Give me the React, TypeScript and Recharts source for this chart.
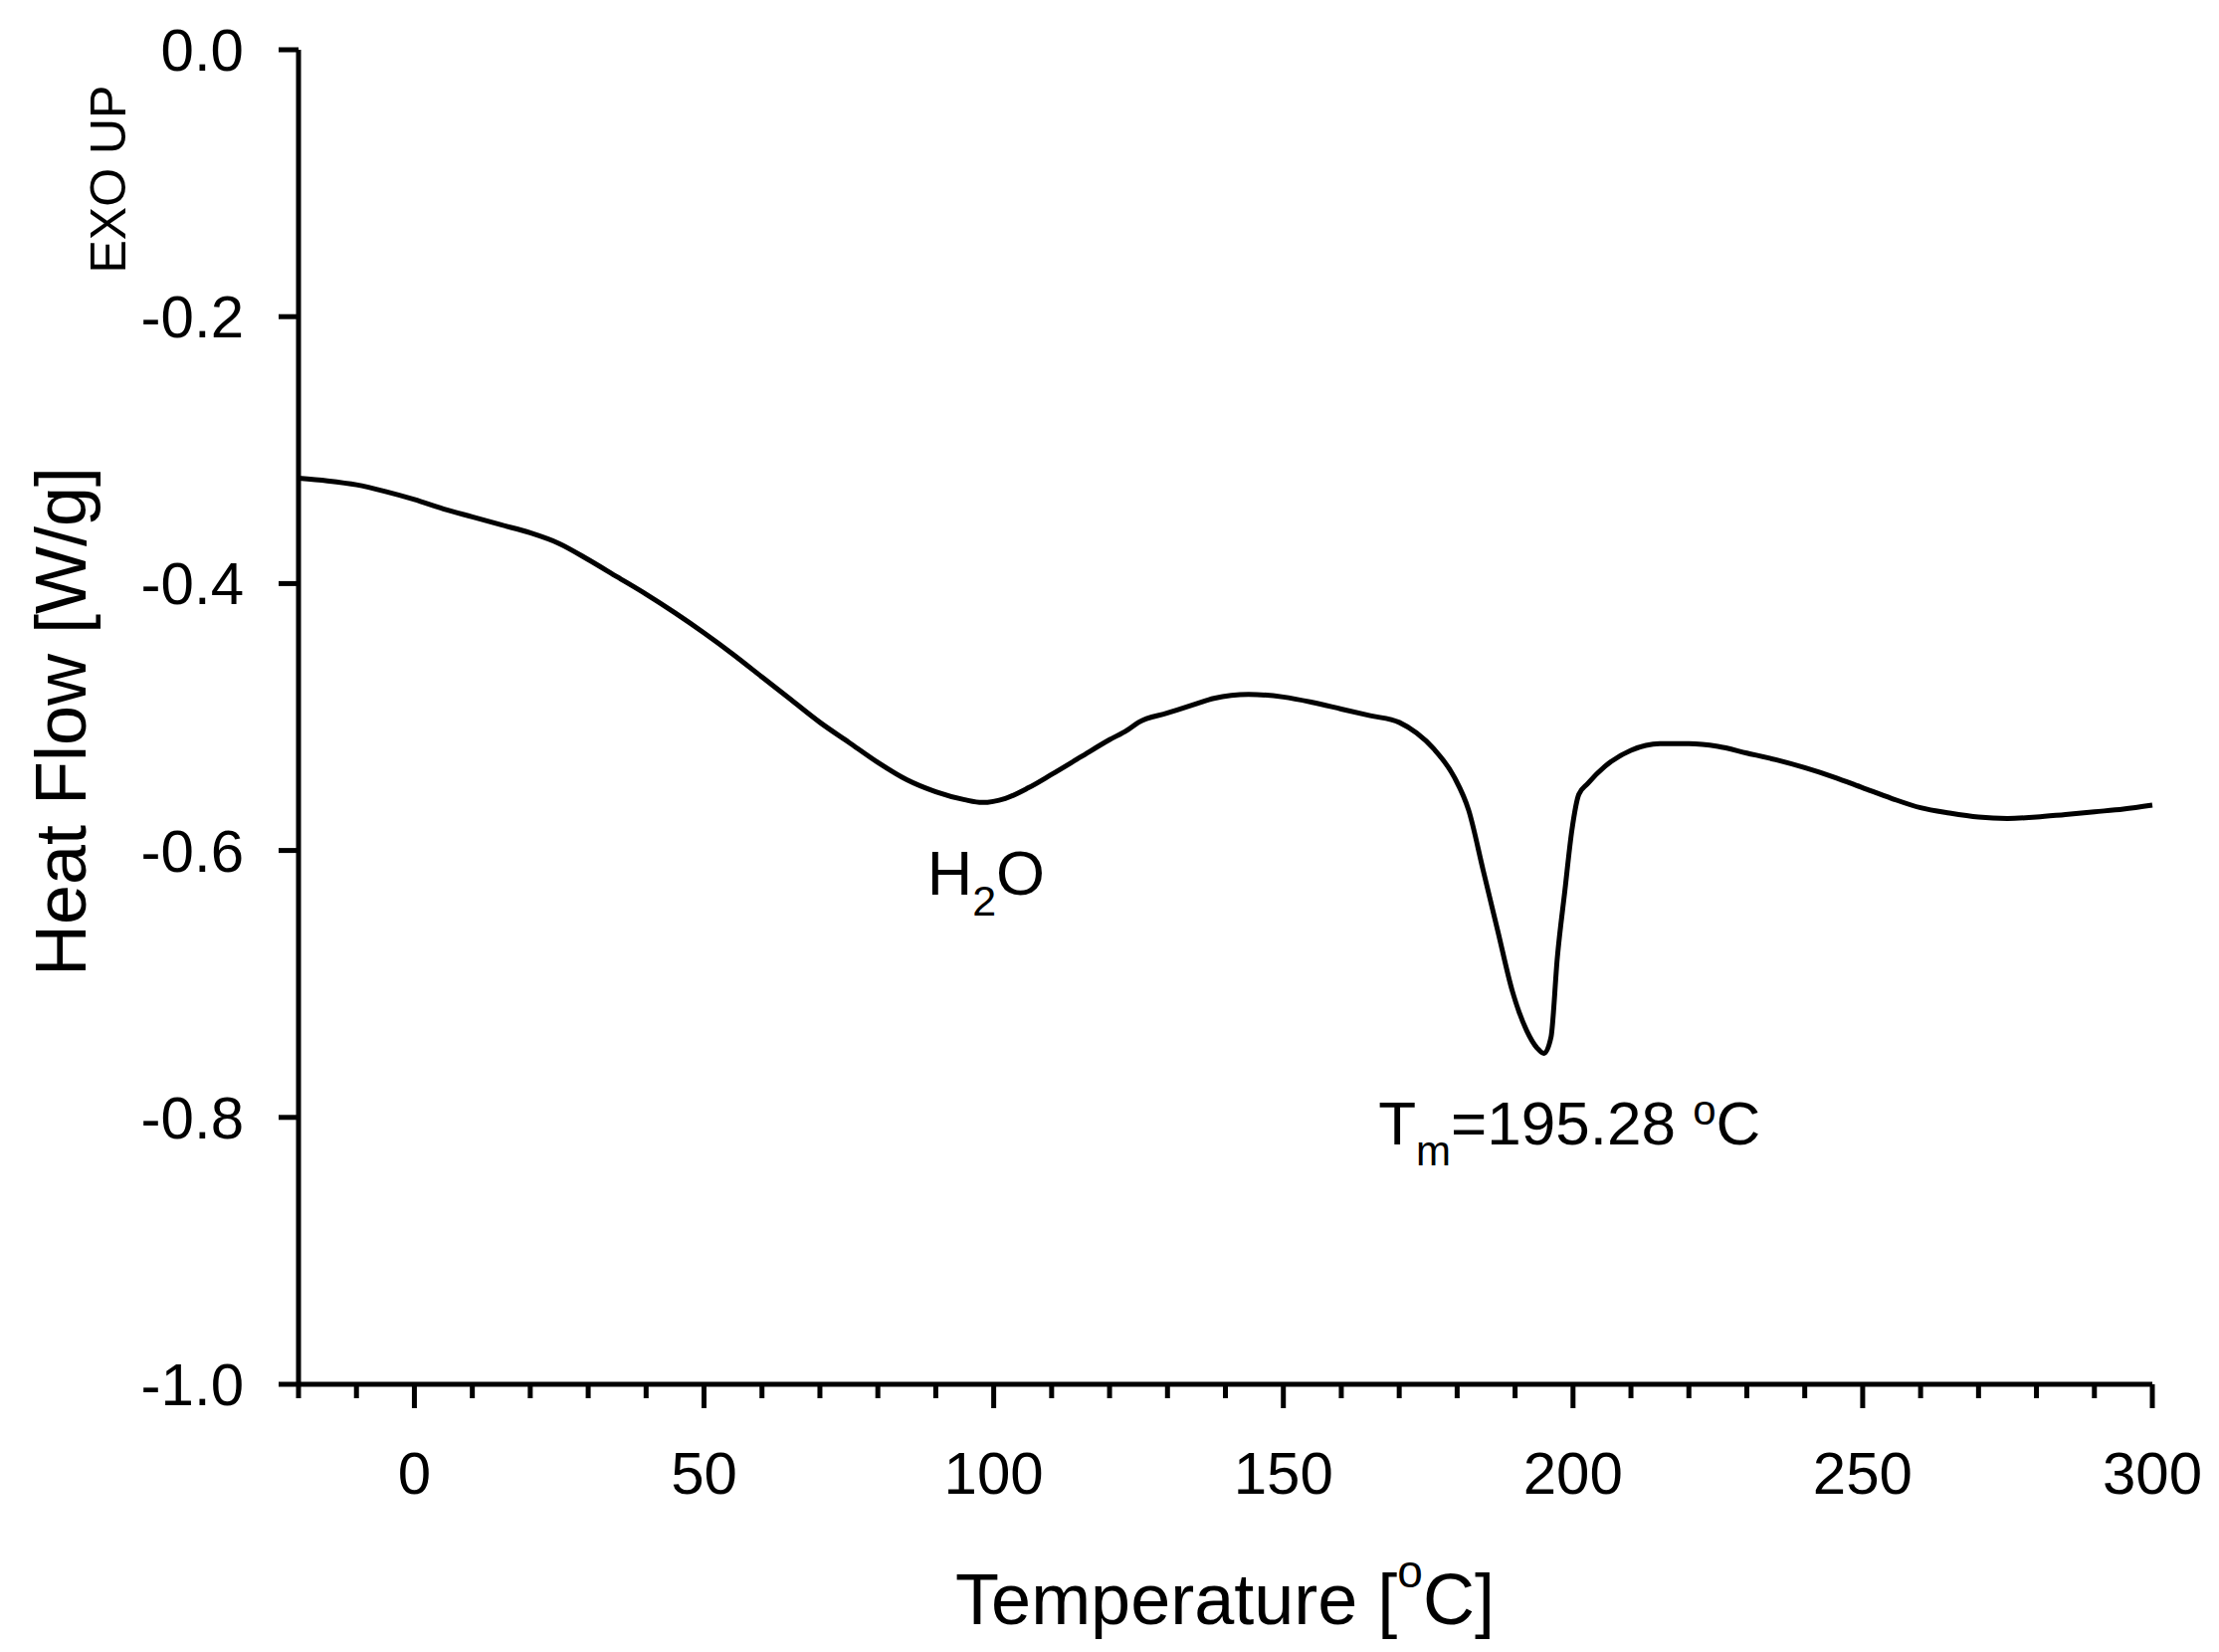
import {
  LineChart,
  Line,
  XAxis,
  YAxis,
  ReferenceDot,
} from "recharts";

// DSC trace
const temperature = [
  -20, -15, -10, -5, 0, 5, 10, 15, 20, 25, 30, 35, 40, 45, 50, 55, 60, 65,
  70, 75, 80, 85, 90, 95, 98, 102, 106, 110, 115, 120, 123, 125, 130, 135,
  138, 144, 150, 155, 160, 165, 170, 173, 176, 179.5, 182, 184.5, 187,
  189.5, 192, 193.8, 195, 196.2, 197.3, 198.6, 199.8, 201, 202.5, 205.5,
  210, 215, 220, 225, 230, 235, 240, 245, 250, 255, 260, 265, 270, 275, 280,
  285, 290, 295, 300,
];

const heatFlow = [
  -0.321, -0.323, -0.326, -0.331, -0.337, -0.344, -0.35, -0.356, -0.362,
  -0.37, -0.382, -0.395, -0.408, -0.422, -0.437, -0.453, -0.47, -0.487,
  -0.504, -0.519, -0.534, -0.547, -0.556, -0.562, -0.564, -0.561, -0.553,
  -0.543, -0.53, -0.517, -0.51, -0.504, -0.497, -0.49, -0.486, -0.483,
  -0.485, -0.489, -0.494, -0.499, -0.504, -0.512, -0.524, -0.545, -0.57,
  -0.615, -0.66, -0.705, -0.735, -0.748, -0.752, -0.74, -0.68, -0.63,
  -0.585, -0.558, -0.55, -0.537, -0.525, -0.52, -0.52, -0.522, -0.527,
  -0.532, -0.538, -0.545, -0.553, -0.561, -0.568, -0.572, -0.575, -0.576,
  -0.575, -0.573, -0.571, -0.569, -0.566,
];

const xTicks = [
  -20, -10, 0, 10, 20, 30, 40, 50, 60, 70, 80, 90, 100, 110, 120, 130, 140,
  150, 160, 170, 180, 190, 200, 210, 220, 230, 240, 250, 260, 270, 280, 290,
  300,
];
const yTicks = [0, -0.2, -0.4, -0.6, -0.8, -1.0];

const data = temperature.map((t, i) => ({
  t,
  heatFlow: heatFlow[i],
}));

const FONT = "'Liberation Sans', Arial, Helvetica, sans-serif";

function XTick({ x, y, payload }: any) {
  const v = payload.value;
  const major = v % 50 === 0;
  return (
    <g>
      <line
        x1={x}
        x2={x}
        y1={y}
        y2={y + (major ? 24 : 14)}
        stroke="#000"
        strokeWidth={5}
      />
      {major && (
        <text
          x={x}
          y={y + 110}
          textAnchor="middle"
          fontSize={60}
          fontFamily={FONT}
          fill="#000"
        >
          {v}
        </text>
      )}
    </g>
  );
}

function YTick({ x, y, payload }: any) {
  return (
    <g>
      <line x1={x - 20} x2={x} y1={y} y2={y} stroke="#000" strokeWidth={5} />
      <text
        x={x - 55}
        y={y + 21}
        textAnchor="end"
        fontSize={60}
        fontFamily={FONT}
        fill="#000"
      >
        {Number(payload.value).toFixed(1)}
      </text>
    </g>
  );
}

function YTitle() {
  return (
    <g fontFamily={FONT} fill="#000">
      <text
        x={86}
        y={725}
        transform="rotate(-90, 86, 725)"
        textAnchor="middle"
        fontSize={72}
      >
        Heat Flow [W/g]
      </text>
      <text
        x={126}
        y={180}
        transform="rotate(-90, 126, 180)"
        textAnchor="middle"
        fontSize={50}
      >
        EXO UP
      </text>
    </g>
  );
}

function XTitle() {
  return (
    <text
      x={1231}
      y={1632}
      textAnchor="middle"
      fontSize={72}
      fontFamily={FONT}
      fill="#000"
    >
      Temperature [
      <tspan dy={-37} fontSize={46}>
        o
      </tspan>
      <tspan dy={37}>C]</tspan>
    </text>
  );
}

function WaterLabel({ viewBox }: any) {
  return (
    <text
      x={viewBox.x}
      y={viewBox.y}
      fontSize={63}
      fontFamily={FONT}
      fill="#000"
    >
      H
      <tspan dy={21} fontSize={43}>
        2
      </tspan>
      <tspan dy={-21}>O</tspan>
    </text>
  );
}

function MeltLabel({ viewBox }: any) {
  return (
    <text
      x={viewBox.x}
      y={viewBox.y}
      fontSize={62}
      fontFamily={FONT}
      fill="#000"
    >
      T
      <tspan dy={21} fontSize={42}>
        m
      </tspan>
      <tspan dy={-21}>=195.28 </tspan>
      <tspan dy={-20} fontSize={42}>
        o
      </tspan>
      <tspan dy={20}>C</tspan>
    </text>
  );
}

export default function App() {
  return (
    <div style={{ width: 2230, height: 1660, background: "#fff" }}>
      <style>{"body{margin:0;background:#fff}"}</style>
      <LineChart
        width={2230}
        height={1660}
        data={data}
        margin={{ top: 50, right: 67, left: 0, bottom: 0 }}
      >
        <XAxis
          dataKey="t"
          type="number"
          domain={[-20, 300]}
          ticks={xTicks}
          interval={0}
          tickSize={0}
          tickMargin={0}
          tickLine={false}
          tick={<XTick />}
          height={269}
          axisLine={{ stroke: "#000", strokeWidth: 5 }}
          label={{ content: () => <XTitle /> }}
        />
        <XAxis
          xAxisId="top"
          orientation="top"
          type="number"
          domain={[-20, 300]}
          height={0}
          tick={false}
          tickLine={false}
          axisLine={{ stroke: "#000", strokeWidth: 5 }}
        />
        <YAxis
          type="number"
          domain={[-1, 0]}
          ticks={yTicks}
          interval={0}
          tickSize={0}
          tickMargin={0}
          tickLine={false}
          tick={<YTick />}
          width={300}
          axisLine={{ stroke: "#000", strokeWidth: 5 }}
          label={{ content: () => <YTitle /> }}
        />
        <YAxis
          yAxisId="right"
          orientation="right"
          type="number"
          domain={[-1, 0]}
          width={0}
          tick={false}
          tickLine={false}
          axisLine={{ stroke: "#000", strokeWidth: 5 }}
        />
        <Line
          type="monotone"
          dataKey="heatFlow"
          stroke="#000"
          strokeWidth={5}
          dot={false}
          activeDot={false}
          isAnimationActive={false}
        />
        <ReferenceDot
          x={88.5}
          y={-0.633}
          r={0}
          fill="none"
          stroke="none"
          label={{ content: (p: any) => <WaterLabel {...p} /> }}
        />
        <ReferenceDot
          x={166.4}
          y={-0.82}
          r={0}
          fill="none"
          stroke="none"
          label={{ content: (p: any) => <MeltLabel {...p} /> }}
        />
      </LineChart>
    </div>
  );
}
